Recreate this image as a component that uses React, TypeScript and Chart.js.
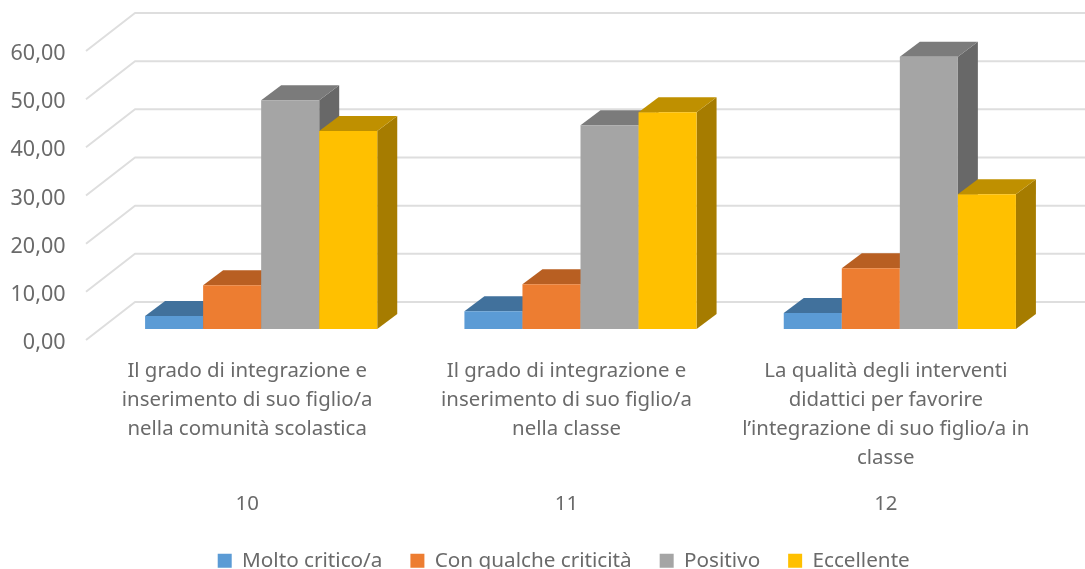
import React, { useEffect, useRef } from "react";
import { Chart, registerables } from "chart.js";

Chart.register(...registerables);

const questions: string[][] = [
  ["Il grado di integrazione e", "inserimento di suo figlio/a", "nella comunità scolastica"],
  ["Il grado di integrazione e", "inserimento di suo figlio/a", "nella classe"],
  ["La qualità degli interventi", "didattici per favorire", "l’integrazione di suo figlio/a in", "classe"],
];
const questionIds = ["10", "11", "12"];
const seriesNames = ["Molto critico/a", "Con qualche criticità", "Positivo", "Eccellente"];
const moltoCritico = [2.7, 3.7, 3.3];
const conQualche = [9.1, 9.3, 12.6];
const positivo = [47.5, 42.3, 56.5];
const eccellente = [41.1, 45.0, 28.0];
const frontColors = ["#5B9BD5", "#ED7D31", "#A5A5A5", "#FFC000"];
const topColors = ["#41719C", "#B85F22", "#7B7B7B", "#BF9000"];
const sideColors = ["#36648C", "#9A4F1C", "#686868", "#A67C00"];

const FONT = "'Noto Sans', sans-serif";
const TEXT = "#6A6A6A";
const GRID = "#DEDEDE";
// 3D projection, in px
const WALL_DX = 49;
const WALL_DY = 38;
const BAR_SHIFT_X = 14;
const BAR_SHIFT_Y = 11;
const BAR_DX = 20;
const BAR_DY = 15;
const LEGEND_SHIFT = 41;

const threeD = {
  id: "threeD",
  afterLayout(chart: any) {
    chart.legend.left += LEGEND_SHIFT;
    chart.legend.right += LEGEND_SHIFT;
  },
  beforeDatasetsDraw(chart: any) {
    const { ctx, chartArea, scales } = chart;
    ctx.save();
    ctx.strokeStyle = GRID;
    ctx.lineWidth = 2;
    ctx.lineJoin = "round";
    for (const t of scales.y.ticks) {
      const y = scales.y.getPixelForValue(t.value);
      const x0 = chartArea.left - 1.5;
      ctx.beginPath();
      ctx.moveTo(x0, y);
      ctx.lineTo(x0 + WALL_DX, y - WALL_DY);
      ctx.lineTo(chartArea.right + WALL_DX, y - WALL_DY);
      ctx.stroke();
    }
    ctx.restore();
  },
  // The default pass paints the last dataset first; the 3D look needs left-to-right.
  beforeDatasetDraw() {
    return false;
  },
  afterDatasetsDraw(chart: any) {
    const { ctx } = chart;
    chart.data.datasets.forEach((_: any, i: number) => {
      const meta = chart.getDatasetMeta(i);
      ctx.save();
      ctx.translate(BAR_SHIFT_X, -BAR_SHIFT_Y);
      for (const bar of meta.data) {
        const p = bar.getProps(["x", "y", "base", "width"], true);
        const l = p.x - p.width / 2;
        const r = p.x + p.width / 2;
        ctx.fillStyle = sideColors[i];
        ctx.beginPath();
        ctx.moveTo(r, p.y);
        ctx.lineTo(r + BAR_DX, p.y - BAR_DY);
        ctx.lineTo(r + BAR_DX, p.base - BAR_DY);
        ctx.lineTo(r, p.base);
        ctx.closePath();
        ctx.fill();
        ctx.fillStyle = topColors[i];
        ctx.beginPath();
        ctx.moveTo(l, p.y);
        ctx.lineTo(l + BAR_DX, p.y - BAR_DY);
        ctx.lineTo(r + BAR_DX, p.y - BAR_DY);
        ctx.lineTo(r, p.y);
        ctx.closePath();
        ctx.fill();
      }
      meta.controller.draw();
      ctx.restore();
    });
  },
};

export default function App() {
  const ref = useRef<HTMLCanvasElement>(null);
  useEffect(() => {
    const values = [moltoCritico, conQualche, positivo, eccellente];
    const chart = new Chart(ref.current!, {
      type: "bar",
      plugins: [threeD],
      data: {
        labels: questions,
        datasets: seriesNames.map((name, i) => ({
          label: name,
          data: values[i],
          backgroundColor: frontColors[i],
          barPercentage: 1,
          categoryPercentage: 0.727,
        })),
      },
      options: {
        responsive: false,
        animation: false,
        layout: { padding: { left: 0, right: 39.5, top: 51, bottom: 0 } },
        plugins: {
          tooltip: { enabled: false },
          legend: {
            position: "bottom",
            labels: {
              boxWidth: 14,
              boxHeight: 14,
              padding: 28,
              color: TEXT,
              font: { family: FONT, size: 20.7 },
            },
          },
        },
        scales: {
          y: {
            min: 0,
            max: 60,
            afterFit: (s: any) => { s.width = 87.5; },
            grid: { display: false, drawTicks: false },
            border: { display: false },
            ticks: {
              stepSize: 10,
              padding: 22,
              color: TEXT,
              // Blank first line with a small line height nudges the label down onto the grid line's end.
              font: { family: FONT, size: 21.5, lineHeight: 6 / 21.5 },
              callback: (v: any) => ["", Number(v).toFixed(2).replace(".", ",")],
            },
          },
          x: {
            weight: 0,
            afterFit: (s: any) => { s.height = 140; },
            grid: { display: false, drawTicks: false },
            border: { display: false },
            ticks: {
              autoSkip: false,
              maxRotation: 0,
              minRotation: 0,
              padding: 17,
              color: TEXT,
              font: { family: FONT, size: 20.4, lineHeight: 29 / 20.4 },
            },
          },
          x2: {
            type: "category",
            labels: questionIds,
            offset: true,
            position: "bottom",
            weight: 1,
            afterFit: (s: any) => { s.height = 42.3; },
            grid: { display: false, drawTicks: false },
            border: { display: false },
            ticks: {
              autoSkip: false,
              maxRotation: 0,
              padding: 12,
              color: TEXT,
              font: { family: FONT, size: 20.4 },
            },
          },
        },
      } as any,
    });
    return () => chart.destroy();
  }, []);
  return (
    <div style={{ position: "absolute", left: 0, top: 0, width: 1085, height: 569, overflow: "hidden", background: "#fff" }}>
      <canvas ref={ref} width={1085} height={581} style={{ display: "block" }} />
    </div>
  );
}
